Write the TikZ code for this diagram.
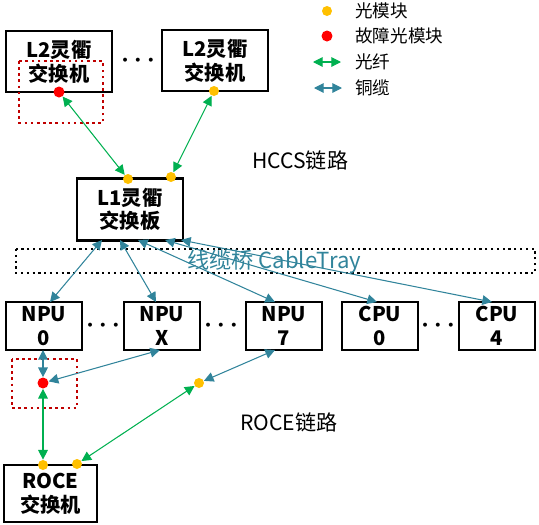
\documentclass[tikz,border=0pt]{standalone}
\usepackage{fontspec}
\setmainfont{Noto Sans CJK SC}
\usetikzlibrary{arrows.meta}
\definecolor{fiber}{HTML}{00B050}
\definecolor{copper}{HTML}{31849B}
\definecolor{module}{HTML}{FFC000}
\definecolor{fault}{HTML}{FF0000}
\definecolor{faultbox}{HTML}{C00000}
\begin{document}
\begin{tikzpicture}[x=0.02cm,y=-0.02cm]
\tikzstyle{box}=[draw,line width=1.2pt,align=center,inner sep=0pt,font=\bfseries\fontsize{11.5}{13.5}\selectfont];
\tikzstyle{unit}=[box,minimum width=1.52cm,minimum height=0.96cm];
\tikzstyle{dot}=[circle,fill=module,minimum size=0.2cm,inner sep=0pt];
\tikzstyle{bad}=[circle,fill=fault,minimum size=0.22cm,inner sep=0pt];
\tikzstyle{more}=[font=\fontsize{15}{15}\selectfont\boldmath];
\tikzstyle{label}=[anchor=west,inner sep=0pt];
\tikzstyle{glink}=[fiber,line width=0.6pt,{Triangle[length=5.5pt,width=5.5pt]}-{Triangle[length=5.5pt,width=5.5pt]}];
\tikzstyle{clink}=[copper,line width=0.6pt,{Triangle[length=5.5pt,width=5.5pt]}-{Triangle[length=5.5pt,width=5.5pt]}];
\useasboundingbox (0,0) rectangle (539,525);

\node[box,minimum width=2.12cm,minimum height=1.22cm] (l2a) at (59,61.5) {L2灵衢\\交换机};
\node[box,minimum width=2.12cm,minimum height=1.22cm] (l2b) at (215,60.5) {L2灵衢\\交换机};
\node[more] (d1) at (138,61) {$\cdots$};
\node[box,minimum width=2.12cm,minimum height=1.24cm] (l1) at (130,209.5) {L1灵衢\\交换板};
\node[unit] (npu0) at (44,326) {NPU\\0};
\node[unit] (npux) at (162,326) {NPU\\X};
\node[unit] (npu7) at (284,326) {NPU\\7};
\node[unit] (cpu0) at (380,326) {CPU\\0};
\node[unit] (cpu4) at (497,326) {CPU\\4};
\node[more] (d2) at (103,326) {$\cdots$};
\node[more] (d3) at (221,326) {$\cdots$};
\node[more] (d4) at (438,326) {$\cdots$};
\node[box,minimum width=1.86cm,minimum height=1.14cm] (roce) at (50.5,493.5) {ROCE\\交换机};

\draw[faultbox,dotted,line width=1.5pt] (19,61) rectangle (103,123);
\draw[faultbox,dotted,line width=1.5pt] (12,359) rectangle (77,408);
\draw[dotted,line width=1.3pt] (16,249) rectangle (535,273);
\node[label,copper,font=\fontsize{12.6}{12.6}\selectfont] (tray) at (187,262) {线缆桥 CableTray};

\node[bad] (f1) at (59,92) {};
\node[dot] (m1) at (214,91) {};
\node[dot] (m2) at (128,179) {};
\node[dot] (m3) at (171,177) {};
\node[bad] (f2) at (43,383) {};
\node[dot] (m4) at (199,383) {};
\node[dot] (m5) at (43,465) {};
\node[dot] (m6) at (77,464) {};

\coordinate (a1) at (102,240);
\coordinate (a2) at (120,240);
\coordinate (a3) at (138,240);
\coordinate (a4) at (165,240);
\coordinate (a5) at (181,240);
\coordinate (b1) at (50,302);
\coordinate (b2) at (156,302);
\coordinate (b3) at (275,302);
\coordinate (b4) at (377,302);
\coordinate (b5) at (492,302);
\coordinate (c1) at (43,350);
\coordinate (c2) at (160,350);
\coordinate (c3) at (275,350);

\draw[glink] (f1) -- (m2);
\draw[glink] (m1) -- (m3);
\draw[clink] (a1) -- (b1);
\draw[clink] (a2) -- (b2);
\draw[clink] (a3) -- (b3);
\draw[clink] (a4) -- (b4);
\draw[clink] (a5) -- (b5);
\draw[clink] (c1) -- (f2);
\draw[clink] (f2) -- (c2);
\draw[clink] (c3) -- (m4);
\draw[glink] (f2) -- (m5);
\draw[glink] (m4) -- (m6);

\node[label,font=\fontsize{12}{12}\selectfont] (hccs) at (252,160) {HCCS链路};
\node[label,font=\fontsize{12}{12}\selectfont] (roceln) at (240,422) {ROCE链路};

\node[dot] (k1) at (327,11) {};
\node[bad] (k2) at (327,36) {};
\coordinate (k3a) at (313,62);
\coordinate (k3b) at (341,62);
\coordinate (k4a) at (314,88);
\coordinate (k4b) at (342,88);
\draw[glink] (k3a) -- (k3b);
\draw[clink] (k4a) -- (k4b);
\node[label,font=\fontsize{10}{10}\selectfont] (t1) at (355,11) {光模块};
\node[label,font=\fontsize{10}{10}\selectfont] (t2) at (355,36) {故障光模块};
\node[label,font=\fontsize{10}{10}\selectfont] (t3) at (355,62) {光纤};
\node[label,font=\fontsize{10}{10}\selectfont] (t4) at (355,88) {铜缆};
\end{tikzpicture}
\end{document}
